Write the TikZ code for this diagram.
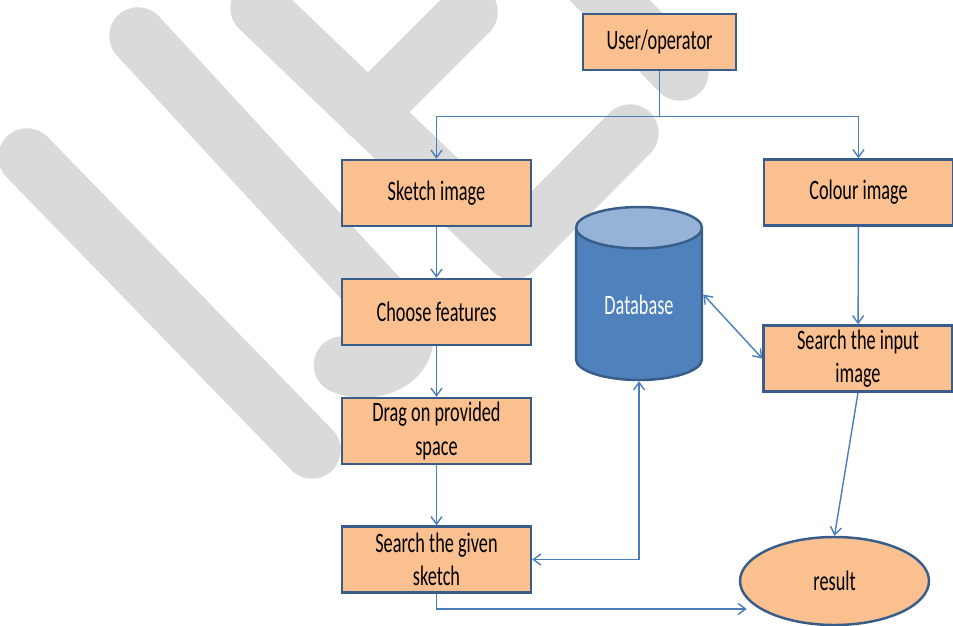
\documentclass[tikz,border=0pt]{standalone}
\usepackage{fontspec}
\setmainfont{Carlito}[FakeStretch=0.65]
\usetikzlibrary{shapes.geometric}
\usetikzlibrary{positioning}
\usetikzlibrary{arrows.meta}
\definecolor{boxfill}{RGB}{250,192,144}
\definecolor{boxline}{RGB}{56,93,138}
\definecolor{linkblue}{RGB}{74,126,187}
\definecolor{dbbody}{RGB}{79,129,189}
\definecolor{dbtop}{RGB}{149,179,215}
\definecolor{wmgray}{RGB}{218,218,218}
\tikzset{
  procbox/.style={
    draw=boxline, fill=boxfill, line width=1.4pt,
    minimum width=3.78cm, minimum height=1.32cm, inner sep=0pt,
    align=center, font=\fontsize{16}{18.8}\selectfont,
  },
  dbshape/.style={
    cylinder, shape border rotate=90, aspect=0.6,
    draw=boxline, line width=1.4pt,
    cylinder uses custom fill, cylinder body fill=dbbody, cylinder end fill=dbtop,
    minimum width=2.52cm, minimum height=3.46cm, inner sep=0pt,
    text=white, font=\fontsize{16}{18.8}\selectfont,
  },
  endshape/.style={
    ellipse, draw=boxline, fill=boxfill, line width=1.4pt,
    minimum width=3.78cm, minimum height=1.76cm, inner sep=0pt,
    font=\fontsize{16}{18.8}\selectfont,
  },
  link/.style={
    draw=linkblue, line width=0.8pt,
    >={Straight Barb[length=1.5mm,width=2.2mm]},
  },
  wmstroke/.style={
    draw=wmgray, line width=1.15cm, line cap=round, line join=round,
  },
}
\begin{document}
\begin{tikzpicture}

                \useasboundingbox (0,0) rectangle (19.06,12.5);

                \draw[wmstroke] (0.54,9.36) -- (6.24,3.5);
                \draw[wmstroke] (2.76,11.78) -- (7.9,6.2) .. controls (8.5,5.5) and (7.6,4.9) .. (6.85,5.2);
                \draw[wmstroke] (5.18,12.34) -- (10.26,7.48) -- (12.6,9.84);
                \draw[wmstroke] (9.38,12.26) -- (7.36,10.24);
                \draw[wmstroke] (11.7,13.0) -- (13.6,11.06);

                \node[procbox, minimum width=3.06cm, minimum height=1.12cm] (user) at (13.19,11.66){User/operator};

                \node[procbox] (sketch) at (8.73,8.64){Sketch image};
                \node[procbox] (choose) at (8.73,6.26){Choose features};
                \node[procbox] (drag) at (8.73,3.88){Drag on provided\\space};
                \node[procbox] (given) at (8.73,1.31){Search the given\\sketch};

                \node[dbshape] (db) at (12.78,6.41){Database};

                \node[procbox] (colour) at (17.17,8.65){Colour image};
                \node[procbox] (input) at (17.16,5.33){Search the input\\image};
                \node[endshape] (result) at (16.69,0.88){result};

                \draw[link] (user.south) -- ++(0,-0.9) coordinate (split);
                \draw[link,->] (split) -| (sketch.north);
                \draw[link,->] (split) -| (colour.north);

                \draw[link,->] (sketch) -- (choose);
                \draw[link,->] (choose) -- (drag);
                \draw[link,->] (drag) -- (given);
                \draw[link,->] (colour) -- (input);

                \draw[link,<->] ([yshift=0.2cm]db.east) -- (input.west);
                \draw[link,<->] (db.south) |- (given.east);

                \draw[link,->] (input.south) -- (result.north);
                \draw[link,->] (given.south) |- ([xshift=0.16cm,yshift=-0.56cm]result.west);

\end{tikzpicture}
\end{document}
